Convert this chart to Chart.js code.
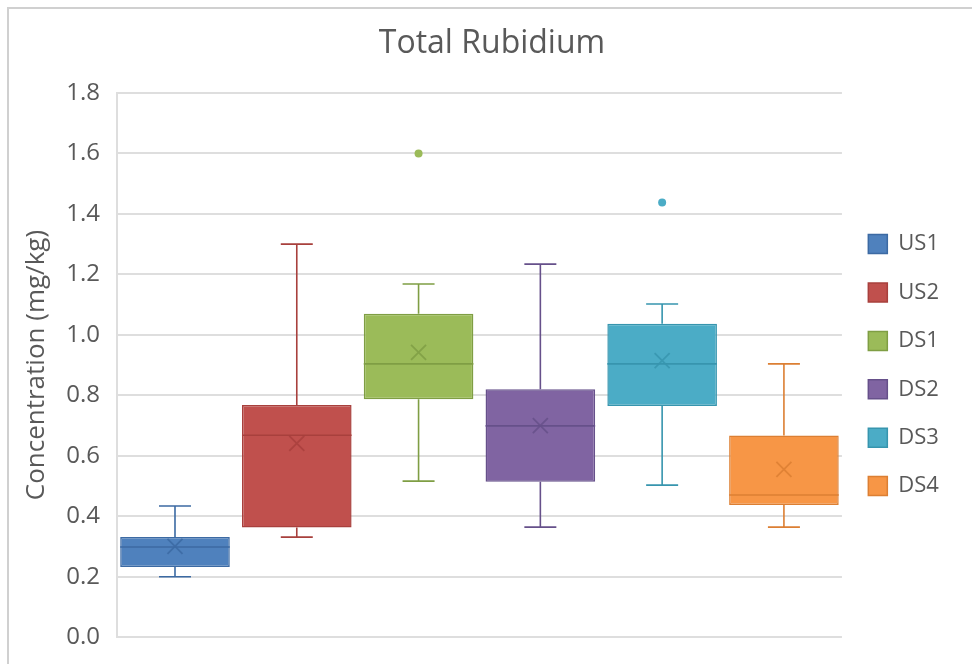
<!DOCTYPE html>
<html>
<head>
<meta charset="utf-8">
<title>Total Rubidium</title>
<script src="https://cdn.jsdelivr.net/npm/chart.js@4.4.1/dist/chart.umd.min.js"></script>
<style>
  html, body { margin: 0; padding: 0; background: #fff; overflow: hidden; }
  #frame { position: absolute; left: 7px; top: 7px; width: 1000px; height: 700px; border: 2px solid #d0d0d0; }
  #chart { position: absolute; left: 0; top: 0; }
</style>
</head>
<body>
<div id="frame"></div>
<canvas id="chart" width="972" height="664"></canvas>
<script>
// Site groups, upstream and downstream
const categories = ['US1', 'US2', 'DS1', 'DS2', 'DS3', 'DS4'];

// Box and whisker statistics (mg/kg)
const whiskerLow  = [0.200, 0.331, 0.516, 0.364, 0.503, 0.364];
const q1          = [0.232, 0.363, 0.787, 0.514, 0.765, 0.437];
const median      = [0.298, 0.668, 0.904, 0.699, 0.904, 0.470];
const q3          = [0.331, 0.768, 1.070, 0.820, 1.037, 0.667];
const whiskerHigh = [0.434, 1.300, 1.168, 1.234, 1.102, 0.904];
const mean        = [0.300, 0.641, 0.942, 0.700, 0.915, 0.555];
const outliers    = [[], [], [1.600], [], [1.438], []];

// Office style palette
const fillColors = ['#4f81bd', '#c0504d', '#9bbb59', '#8064a2', '#4bacc6', '#f79646'];
const lineColors = ['#3c6aa3', '#a8403d', '#7f9e44', '#66508a', '#3795ae', '#dc7f33'];

const TEXT = '#595959';
const GRID = '#dedede';
const FONT = "'Open Sans', 'Noto Sans', sans-serif";

/**
 * Draws whiskers, median line, mean cross and outliers on top of the floating bars.
 * Positions come from the bar elements and the y scale.
 */
const boxPlotPlugin = {
    id: 'boxPlot',
    afterDatasetsDraw(chart) {
        const ctx = chart.ctx;
        const y = chart.scales.y;
        chart.data.datasets.forEach((ds, i) => {
            if (!chart.isDatasetVisible(i)) return;
            const bar = chart.getDatasetMeta(i).data[0];
            const x = bar.x;
            const half = bar.width / 2;
            const cap = 16;
            const px = v => y.getPixelForValue(v);

            ctx.save();
            ctx.strokeStyle = lineColors[i];
            ctx.lineWidth = 1.6;

            // whiskers and caps
            ctx.beginPath();
            ctx.moveTo(x, px(q3[i]));
            ctx.lineTo(x, px(whiskerHigh[i]));
            ctx.moveTo(x, px(q1[i]));
            ctx.lineTo(x, px(whiskerLow[i]));
            ctx.moveTo(x - cap, px(whiskerHigh[i]));
            ctx.lineTo(x + cap, px(whiskerHigh[i]));
            ctx.moveTo(x - cap, px(whiskerLow[i]));
            ctx.lineTo(x + cap, px(whiskerLow[i]));
            ctx.stroke();

            // median
            ctx.beginPath();
            ctx.moveTo(x - half, px(median[i]));
            ctx.lineTo(x + half, px(median[i]));
            ctx.stroke();

            // mean cross
            const m = px(mean[i]);
            const s = 7.5;
            ctx.globalAlpha = 0.85;
            ctx.lineWidth = 1.8;
            ctx.beginPath();
            ctx.moveTo(x - s, m - s);
            ctx.lineTo(x + s, m + s);
            ctx.moveTo(x - s, m + s);
            ctx.lineTo(x + s, m - s);
            ctx.stroke();
            ctx.globalAlpha = 1;

            // outliers
            ctx.fillStyle = fillColors[i];
            outliers[i].forEach(v => {
                ctx.beginPath();
                ctx.arc(x, px(v), 4, 0, Math.PI * 2);
                ctx.fill();
            });
            ctx.restore();
        });
    }
};

const datasets = categories.map((name, i) => ({
    label: name,
    data: [[q1[i], q3[i]]],
    backgroundColor: fillColors[i],
    borderColor: lineColors[i],
    borderWidth: 1.5,
    borderSkipped: false,
    categoryPercentage: 1.008,
    barPercentage: 0.9
}));

const config = {
    type: 'bar',
    data: { labels: [''], datasets: datasets },
    options: {
        responsive: false,
        animation: false,
        layout: { padding: { top: 24.8, right: 23, bottom: 22, left: 35 } },
        scales: {
            x: {
                display: false
            },
            y: {
                min: 0,
                max: 1.8,
                afterFit(scale) { scale.width = 82; },
                ticks: {
                    stepSize: 0.2,
                    padding: 17,
                    color: TEXT,
                    font: { family: FONT, size: 24, lineHeight: 0.82 },
                    callback: v => v.toFixed(1)
                },
                grid: { color: GRID, lineWidth: 2, drawTicks: false },
                border: { display: true, color: GRID, width: 2 },
                title: {
                    display: true,
                    text: 'Concentration (mg/kg)',
                    color: TEXT,
                    font: { family: FONT, size: 26, lineHeight: 1.2 },
                    padding: { top: -14, bottom: 0 }
                }
            }
        },
        plugins: {
            title: {
                display: true,
                text: 'Total Rubidium',
                color: TEXT,
                font: { family: FONT, size: 32, weight: 'normal', lineHeight: 1.2 },
                padding: { top: 0, bottom: 29.8 }
            },
            legend: {
                position: 'right',
                fullSize: false,
                labels: {
                    boxWidth: 19,
                    boxHeight: 19,
                    padding: 26.4,
                    color: TEXT,
                    font: { family: FONT, size: 22 }
                }
            },
            tooltip: { enabled: false }
        }
    },
    plugins: [boxPlotPlugin]
};

new Chart(document.getElementById('chart').getContext('2d'), config);
</script>
</body>
</html>
